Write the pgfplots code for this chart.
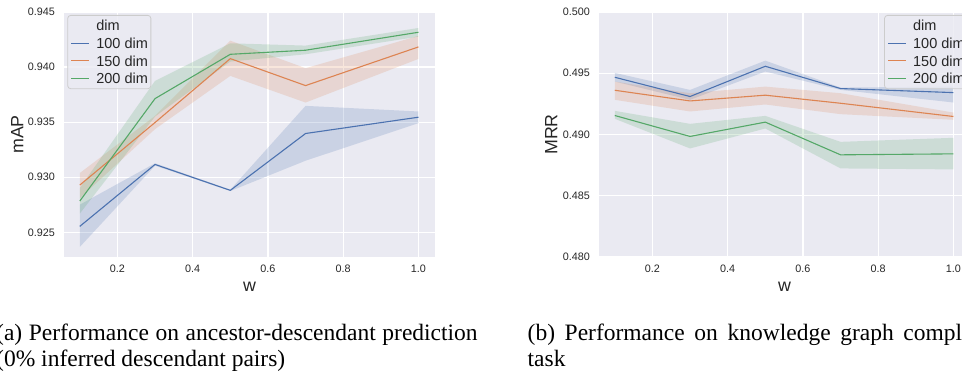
\documentclass[border=0pt]{standalone}
\usepackage{fontspec}
\setmainfont{Liberation Serif}
\newfontfamily\sansf{Liberation Sans}
\usepackage{pgfplots}
\pgfplotsset{compat=1.18}
\usepackage{pgfplotstable}

\definecolor{bg}{HTML}{EAEAF2}
\definecolor{sbblue}{HTML}{4C72B0}
\definecolor{sborange}{HTML}{DD8452}
\definecolor{sbgreen}{HTML}{55A868}
\definecolor{txt}{HTML}{262626}
\definecolor{legedge}{HTML}{CCCCCC}

% mAP means: w, 100 dim, 150 dim, 200 dim
\pgfplotstableread{
w   b       o       g
0.1 0.92554 0.92929 0.92784
0.3 0.93116 0.93497 0.93714
0.5 0.92881 0.94077 0.94116
0.7 0.93397 0.93832 0.94153
1.0 0.93545 0.94183 0.94316
}\mapdata
% mAP confidence bands: upper edge, then lower edge reversed
\pgfplotstableread{
w   b       o       g
0.1 0.92751 0.93038 0.92902
0.3 0.93127 0.93557 0.93875
0.5 0.92887 0.94240 0.94216
0.7 0.93648 0.93990 0.94195
1.0 0.93597 0.94283 0.94355
1.0 0.93491 0.94074 0.94276
0.7 0.93150 0.93678 0.94116
0.5 0.92875 0.93920 0.94050
0.3 0.93105 0.93437 0.93551
0.1 0.92367 0.92810 0.92670
}\mapband

% MRR means
\pgfplotstableread{
w   b       o       g
0.1 0.49467 0.49361 0.49155
0.3 0.49310 0.49274 0.48984
0.5 0.49557 0.49321 0.49101
0.7 0.49375 0.49255 0.48834
1.0 0.49342 0.49147 0.48842
}\mrrdata
% MRR confidence bands
\pgfplotstableread{
w   b       o       g
0.1 0.49503 0.49432 0.49193
0.3 0.49364 0.49337 0.49087
0.5 0.49603 0.49391 0.49152
0.7 0.49383 0.49337 0.48940
1.0 0.49391 0.49179 0.48973
1.0 0.49261 0.49120 0.48715
0.7 0.49364 0.49166 0.48723
0.5 0.49514 0.49245 0.49049
0.3 0.49283 0.49188 0.48886
0.1 0.49432 0.49283 0.49128
}\mrrband

\pgfplotsset{
  sbaxis/.style={
    scale only axis,
    width=371pt, height=245pt,
    anchor=south west,
    xmin=0.058, xmax=1.044,
    xtick={0.2,0.4,0.6,0.8,1.0},
    scaled ticks=false,
    axis background/.style={fill=bg},
    axis line style={draw=none},
    major tick length=0pt,
    tick style={draw=none},
    grid=major,
    grid style={white, line width=1.3pt},
    /pgf/number format/assume math mode=true,
    ticklabel style={font=\sansf\fontsize{10.8}{13}\selectfont, text=txt, inner sep=0pt},
    xticklabel style={/pgf/number format/.cd, fixed, fixed zerofill, precision=1},
    yticklabel style={/pgf/number format/.cd, fixed, fixed zerofill, precision=3},
    xticklabel shift=8pt,
    yticklabel shift=9pt,
    label style={font=\sansf\fontsize{17.8}{20}\selectfont, text=txt},
    xlabel={w},
    xlabel style={at={(axis description cs:0.5,-0.1408)}, anchor=base},
    legend style={
      draw=legedge, fill=bg, fill opacity=0.8, text opacity=1,
      rounded corners=3pt, line width=0.8pt,
      inner xsep=3pt, inner ysep=5pt,
      row sep=7.1pt, column sep=7pt,
      font=\sansf\fontsize{14.5}{16}\selectfont, text=txt,
      nodes={inner sep=0pt, text height=10.5pt, text depth=0pt},
    },
    legend cell align=left,
    legend image code/.code={\draw[#1, line width=1.3pt] (0pt,0pt) -- (17.3pt,0pt);},
  },
  bandB/.style={fill=sbblue, fill opacity=0.2, draw=none, forget plot},
  bandO/.style={fill=sborange, fill opacity=0.2, draw=none, forget plot},
  bandG/.style={fill=sbgreen, fill opacity=0.2, draw=none, forget plot},
}

\begin{document}
\begin{tikzpicture}

\begin{axis}[sbaxis,
  at={(64pt,115pt)},
  ymin=0.92276, ymax=0.945,
  ytick={0.925,0.93,0.935,0.94,0.945},
  ylabel={mAP},
  ylabel style={at={(axis description cs:-0.1097,0.5)}, anchor=base},
  legend style={at={(axis description cs:0.0089,0.9878)}, anchor=north west},
]
\addplot[bandB] table[x=w,y=b]{\mapband} -- cycle;
\addplot[bandO] table[x=w,y=o]{\mapband} -- cycle;
\addplot[bandG] table[x=w,y=g]{\mapband} -- cycle;

\addlegendimage{empty legend}\addlegendentry{dim}
\addplot[sbblue, line width=1.1pt] table[x=w,y=b]{\mapdata};\addlegendentry{100 dim}
\addplot[sborange, line width=1.1pt] table[x=w,y=o]{\mapdata};\addlegendentry{150 dim}
\addplot[sbgreen, line width=1.1pt] table[x=w,y=g]{\mapdata};\addlegendentry{200 dim}
\end{axis}

\begin{axis}[sbaxis,
  at={(599pt,115pt)},
  ymin=0.48, ymax=0.5,
  ytick={0.48,0.485,0.49,0.495,0.5},
  ylabel={MRR},
  ylabel style={at={(axis description cs:-0.1124,0.5)}, anchor=base},
  legend style={at={(axis description cs:0.7686,0.9878)}, anchor=north west},
]
\addplot[bandB] table[x=w,y=b]{\mrrband} -- cycle;
\addplot[bandO] table[x=w,y=o]{\mrrband} -- cycle;
\addplot[bandG] table[x=w,y=g]{\mrrband} -- cycle;

\addlegendimage{empty legend}\addlegendentry{dim}
\addplot[sbblue, line width=1.1pt] table[x=w,y=b]{\mrrdata};\addlegendentry{100 dim}
\addplot[sborange, line width=1.1pt] table[x=w,y=o]{\mrrdata};\addlegendentry{150 dim}
\addplot[sbgreen, line width=1.1pt] table[x=w,y=g]{\mrrdata};\addlegendentry{200 dim}
\end{axis}

\begin{scope}[every node/.style={anchor=base west, inner sep=0pt, font=\fontsize{23.5}{25.7}\selectfont}]
\node at (-4pt,31pt) {\makebox[481.5pt][s]{(a) Performance on ancestor-descendant prediction}};
\node at (-4pt,5.3pt) {(0\% inferred descendant pairs)};
\node at (527.5pt,31pt) {\makebox[481.5pt][s]{(b) Performance on knowledge graph completion}};
\node at (527.5pt,5.3pt) {task};
\end{scope}

\pgfresetboundingbox
\path[use as bounding box] (0pt,0pt) rectangle (962pt,372pt);
\end{tikzpicture}
\end{document}
